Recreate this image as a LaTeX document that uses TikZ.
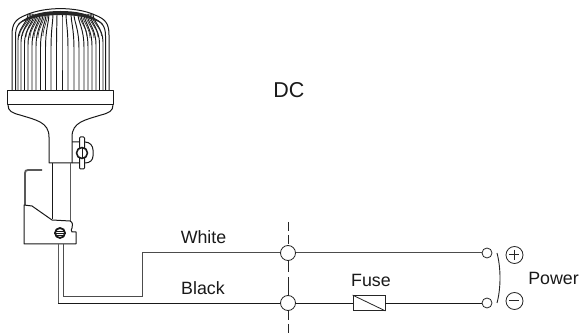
\documentclass[tikz,border=0pt]{standalone}
\usepackage{fontspec}
\setmainfont{Liberation Sans}
\tikzset{
  lamp/.style={draw=black!90,line width=1pt,line join=round},
  rib/.style={draw=black!90,line width=0.95pt},
  finerib/.style={draw=black!85,line width=0.6pt},
  wire/.style={draw=black!70,line width=1pt},
  blackwire/.style={draw=black!90,line width=0.9pt},
  term/.style={circle,draw=black!85,fill=white,line width=0.8pt,inner sep=0pt},
  lbl/.style={font=\fontsize{17.8}{20}\selectfont,text=black!90,inner sep=0pt},
}
\begin{document}
\begin{tikzpicture}[x=1pt,y=-1pt]
\useasboundingbox (0,0) rectangle (581,336);
% ribs
\foreach \b/\t/\k in {18/28/40,21/31/42,24.5/34/44,28/37/45,32/40/46,36/43/47,40.5/46/48,45.5/49/49,51/53/50,56.5/57/50,62/62/50,68/66/50,74/71/50,79/74/49,84/78/48,88/81/47,92/84/46,96/87/45,99.5/90/44,103/93/42}{
  \draw[rib] (\b,91) -- (\b,\k) .. controls (\b,28) and (\t,22) .. (\t,14);
}
\foreach \b/\t/\k in {19.5/29.5/36,22.5/32.5/36,26/35.5/37,30/38.5/38,34/41.5/38,38/44.5/38,43/47.5/36,87/79.5/36,90/82.5/38,94/85.5/38,98/88.5/37,101.5/91.5/36}{
  \draw[finerib] (\b,\k) .. controls (\b,28) and (\t,22) .. (\t,14);
}
% dome outlines
\draw[lamp] (12,91) -- (12,35) .. controls (12,23) and (16,19) .. (26,15) .. controls (45,6.5) and (76,6.5) .. (95,15) .. controls (105,19) and (109,23) .. (109,35) -- (109,91);
\draw[lamp] (15.5,91) -- (15.5,36) .. controls (15.5,26) and (19,22) .. (28,18.5) .. controls (46,11) and (75,11) .. (93,18.5) .. controls (102,22) and (105.5,26) .. (105.5,36) -- (105.5,91);
\fill[black!85] (18,24) .. controls (30,13) and (46,11) .. (60.5,11) .. controls (75,11) and (91,13) .. (103,24) .. controls (90,17) and (75,15) .. (60.5,15) .. controls (46,15) and (31,17) .. (18,24);
% band
\draw[lamp,fill=white] (7,91) rectangle (113,105);
% neck
\draw[lamp] (8,105) .. controls (8,111) and (12,113) .. (20,115) .. controls (36,120) and (49,122) .. (49,137) -- (49,163) -- (72,163) -- (72,137) .. controls (72,122) and (85,120) .. (101,115) .. controls (109,113) and (113,111) .. (113,105);
% wing nut
\draw[lamp] (72,142) -- (85,142) .. controls (90,142) and (93,146) .. (93,150) -- (93,156) .. controls (93,160) and (90,163) .. (85,163) -- (72,163);
\draw[lamp,fill=white,rounded corners=1pt] (79.5,137) rectangle (84.5,169);
\draw[lamp,fill=white,line width=1.6pt] (82,153) circle (5.5);
\draw[lamp] (82,147) -- (82,159);
% tube
\draw[lamp] (52,163) -- (52,219);
\draw[draw=black!65,line width=1pt] (70,163) -- (70,221);
% hook
\draw[draw=black!65,line width=1.8pt] (25,205) -- (25,173) .. controls (25,171) and (26,170) .. (28,170) -- (42,170);
% bracket
\draw[lamp] (24,205) -- (32,206) -- (52,220) -- (70,221) .. controls (73,222) and (73,226) .. (72,228) .. controls (71,229) and (71,231) .. (72,232) -- (76,232) -- (76,244) -- (24,244) -- cycle;
\draw[lamp,fill=white,line width=1.8pt] (60,233) circle (5);
\draw[lamp,line width=.7pt] (54,233) -- (66,233);
\draw[lamp,line width=.6pt] (56,231) -- (64,231);
\draw[lamp,line width=.6pt] (56,235) -- (64,235);
% nodes
\node[term,minimum size=15pt] (wj) at (288,253) {};
\node[term,minimum size=15pt] (bj) at (288,303) {};
\node[term,minimum size=10pt] (wt) at (487,253) {};
\node[term,minimum size=10pt] (bt) at (487,303) {};
\node[draw=black!85,fill=white,line width=0.8pt,minimum width=32pt,minimum height=15pt,inner sep=0pt] (fuse) at (369,303) {};
\coordinate (wstart) at (63,244);
\coordinate (bstart) at (58,244);
\coordinate (dtop) at (288,222);
\coordinate (dbot) at (288,336);
% wires
\draw[wire] (wstart) |- (142,297) |- (wj);
\draw[wire] (wj) -- (wt);
\draw[draw=black!65,line width=1pt] (bstart) -- (58,303);
\draw[blackwire] (58,303) -- (bj);
\draw[blackwire] (bj) -- (fuse);
\draw[blackwire] (fuse) -- (bt);
\draw[black!85,line width=0.8pt] (fuse.north west) -- (fuse.south east);
% centre line
\draw[black!85,line width=0.8pt,dash pattern=on 9pt off 4pt] (dtop) -- (wj.north);
\draw[black!85,line width=0.8pt] (wj.south) -- (288,272);
\draw[black!85,line width=0.8pt] (288,277) -- (bj.north);
\draw[black!85,line width=0.8pt,dash pattern=on 9pt off 4pt] (bj.south) -- (dbot);
% brace
\draw[black!85,line width=0.9pt] (497,253) .. controls (501,268) and (501,288) .. (497,303);
% polarity
\node[circle,draw=black!85,line width=0.8pt,minimum size=17pt,inner sep=0pt] (plus) at (514.5,255) {};
\draw[black!85,line width=1pt] (plus.west) ++(3.5,0) -- ++(10,0);
\draw[black!85,line width=1pt] (plus.north) ++(0,3.5) -- ++(0,10);
\node[circle,draw=black!85,line width=0.8pt,minimum size=17pt,inner sep=0pt] (minus) at (514.5,301) {};
\draw[black!85,line width=1pt] (minus.west) ++(3.5,0) -- ++(10,0);
% labels
\node[lbl,font=\fontsize{21.5}{24}\selectfont] (dc) at (289,90) {DC};
\node[lbl] (white) at (203.5,237) {White};
\node[lbl] (black) at (203,288) {Black};
\node[lbl] (fuselbl) at (371,280) {Fuse};
\node[lbl] (power) at (553.5,278) {Power};
\end{tikzpicture}
\end{document}
